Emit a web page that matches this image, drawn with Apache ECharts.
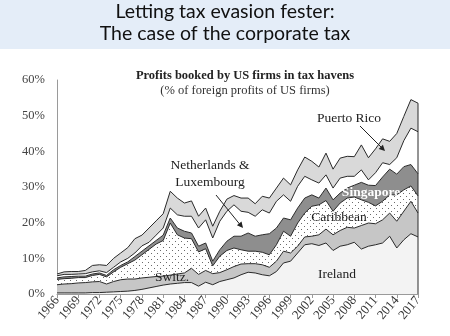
<!DOCTYPE html>
<html><head><meta charset="utf-8">
<script src="https://cdn.jsdelivr.net/npm/echarts@6/dist/echarts.min.js"></script>
<style>html,body{margin:0;padding:0;background:#fff}#c{width:450px;height:336px}</style>
</head><body><div id="c"></div>
<script>
const years = ['1966','1967','1968','1969','1970','1971','1972','1973','1974','1975','1976','1977','1978','1979','1980','1981','1982','1983','1984','1985','1986','1987','1988','1989','1990','1991','1992','1993','1994','1995','1996','1997','1998','1999','2000','2001','2002','2003','2004','2005','2006','2007','2008','2009','2010','2011','2012','2013','2014','2015','2016','2017'];
const ireland = [0.3,0.3,0.3,0.3,0.3,0.4,0.4,0.5,0.6,0.7,0.8,1.0,1.3,1.7,2.1,2.5,2.8,3.0,3.2,3.2,2.2,3.3,2.6,3.5,4.0,4.5,5.4,6.1,5.9,5.4,5.1,6.3,8.7,9.2,11.5,13.8,14.1,13.6,14.3,12.2,13.4,13.8,14.5,12.6,13.4,13.8,14.3,16.2,12.9,15.2,16.9,16.0];
const switz = [2.3,2.5,2.6,2.8,2.9,3.0,3.1,2.3,2.9,3.3,3.4,3.2,3.2,3.0,2.8,2.5,2.5,2.6,2.7,4.0,3.3,3.3,3.1,2.5,2.8,3.2,3.0,2.4,2.6,2.8,2.4,2.9,3.3,2.3,1.9,2.2,2.1,3.0,3.9,4.4,4.4,4.9,4.0,6.6,6.5,5.9,6.5,6.5,7.5,8.0,9.1,6.7];
const caribbean = [1.5,1.5,1.5,1.5,1.4,1.8,2.0,2.0,2.7,3.5,4.3,5.3,6.5,7.8,9.1,10.0,14.6,11.0,9.8,8.3,6.3,6.1,2.2,4.6,5.4,5.2,4.0,3.5,3.5,3.5,3.5,4.6,5.6,4.7,6.5,6.7,8.4,8.4,8.0,6.6,7.7,8.2,8.7,7.2,5.8,5.0,5.2,5.1,7.4,6.0,4.3,4.8];
const singapore = [0.4,0.5,0.5,0.4,0.4,0.4,0.4,0.4,0.6,0.5,0.5,1.0,1.0,1.0,1.0,1.5,1.4,1.9,1.9,1.6,1.6,1.6,1.3,1.8,2.6,3.3,3.8,5.1,4.2,4.9,5.9,4.7,3.7,4.6,4.2,4.2,3.2,1.9,3.5,3.2,2.8,2.8,3.3,4.9,4.8,5.7,6.8,7.2,5.8,6.5,6.0,6.2];
const nlLux = [0.6,0.7,0.6,0.6,0.7,0.6,0.6,0.8,0.7,1.0,1.0,1.0,1.5,1.0,1.5,2.0,2.8,3.7,4.2,4.7,5.1,6.5,6.5,8.0,8.4,8.8,7.0,5.8,5.6,7.0,5.8,7.5,6.5,5.2,6.1,6.1,4.2,4.2,3.7,3.3,4.2,3.3,2.5,3.5,1.5,3.6,4.0,1.3,4.6,7.3,10.2,11.8];
const puertoRico = [0.5,0.7,0.8,0.7,0.9,1.8,1.7,2.0,2.5,2.5,3.0,4.0,3.0,4.0,4.0,4.0,4.7,4.7,3.7,4.3,3.3,3.3,3.3,2.8,3.4,2.6,3.7,4.0,3.5,3.8,4.2,3.7,4.7,4.6,4.6,5.4,5.2,4.5,6.1,5.3,5.6,5.6,5.5,7.0,6.2,6.7,6.7,6.5,6.8,6.8,8.0,8.0];
const yTicks = [0,10,20,30,40,50,60];

const dotCanvas = document.createElement('canvas');
dotCanvas.width = 6; dotCanvas.height = 6;
const dctx = dotCanvas.getContext('2d');
dctx.fillStyle = '#fff'; dctx.fillRect(0,0,6,6);
dctx.fillStyle = '#6a6a6a';
dctx.fillRect(1,1,1,1); dctx.fillRect(4,4,1,1);

const serif = '"Liberation Serif", "DejaVu Serif", serif';
function layer(name, data, fill) {
  return {
    name, type: 'line', stack: 'total', data, symbol: 'none', smooth: false,
    lineStyle: { color: '#2a2a2a', width: 1 },
    areaStyle: { color: fill, opacity: 1 },
    emphasis: { disabled: true }
  };
}

const chart = echarts.init(document.getElementById('c'), null, { renderer: 'canvas' });
const staticGraphics = [
    { type: 'rect', shape: { x: 0, y: 0, width: 450, height: 49 }, style: { fill: '#e4edf8' }, z: 0 },
    { type: 'text', x: 225, y: 12, style: { text: 'Letting tax evasion fester:', fontFamily: 'Lato, "Open Sans", sans-serif', fontSize: 19.5, fill: '#111', align: 'center', verticalAlign: 'middle' } },
    { type: 'text', x: 225, y: 34, style: { text: 'The case of the corporate tax', fontFamily: 'Lato, "Open Sans", sans-serif', fontSize: 19.5, fill: '#111', align: 'center', verticalAlign: 'middle' } },
    { type: 'text', x: 245, y: 76, style: { text: 'Profits booked by US firms in tax havens', fontFamily: serif, fontWeight: 'bold', fontSize: 12.5, fill: '#222', align: 'center', verticalAlign: 'middle' } },
    { type: 'text', x: 245, y: 91, style: { text: '(% of foreign profits of US firms)', fontFamily: serif, fontSize: 12.5, fill: '#333', align: 'center', verticalAlign: 'middle' } },
    { type: 'text', x: 349, y: 118, z: 10, style: { text: 'Puerto Rico', fontFamily: serif, fontSize: 13.5, fill: '#222', align: 'center', verticalAlign: 'middle' } },
    { type: 'line', z: 10, shape: { x1: 360, y1: 126, x2: 384, y2: 150 }, style: { stroke: '#222', lineWidth: 1 } },
    { type: 'polygon', z: 10, shape: { points: [[385,151],[378.7,148.9],[382.9,144.7]] }, style: { fill: '#222' } },
    { type: 'text', x: 210, y: 165, z: 10, style: { text: 'Netherlands &', fontFamily: serif, fontSize: 13.5, fill: '#222', align: 'center', verticalAlign: 'middle' } },
    { type: 'text', x: 210, y: 182, z: 10, style: { text: 'Luxembourg', fontFamily: serif, fontSize: 13.5, fill: '#222', align: 'center', verticalAlign: 'middle' } },
    { type: 'line', z: 10, shape: { x1: 216, y1: 195, x2: 242, y2: 227 }, style: { stroke: '#222', lineWidth: 1 } },
    { type: 'polygon', z: 10, shape: { points: [[243,228],[236.9,225.3],[241.5,221.5]] }, style: { fill: '#222' } },
    { type: 'text', x: 371, y: 193, z: 10, style: { text: 'Singapore', fontFamily: serif, fontWeight: 'bold', fontSize: 13.5, fill: '#ffffff', align: 'center', verticalAlign: 'middle' } },
    { type: 'text', x: 339, y: 217, z: 10, style: { text: 'Caribbean', fontFamily: serif, fontSize: 13.5, fill: '#222', align: 'center', verticalAlign: 'middle' } },
    { type: 'text', x: 337, y: 274, z: 10, style: { text: 'Ireland', fontFamily: serif, fontSize: 13.5, fill: '#222', align: 'center', verticalAlign: 'middle' } },
    { type: 'text', x: 172, y: 277, z: 10, style: { text: 'Switz.', fontFamily: serif, fontSize: 13.5, fill: '#222', align: 'center', verticalAlign: 'middle' } }
];
chart.setOption({
  animation: false,
  backgroundColor: '#ffffff',
  grid: { left: 57, right: 32, top: 80, bottom: 42, containLabel: false },
  xAxis: {
    type: 'category', data: years, boundaryGap: false,
    axisLine: { lineStyle: { color: '#9a9a9a', width: 1 } },
    axisTick: { interval: 2, length: 4, lineStyle: { color: '#9a9a9a' } },
    axisLabel: { interval: 2, rotate: 50, margin: 4, fontFamily: serif, fontSize: 13, color: '#333' },
    splitLine: { show: false }
  },
  yAxis: {
    type: 'value', min: yTicks[0], max: yTicks[yTicks.length - 1], interval: 10,
    axisLine: { show: true, lineStyle: { color: '#9a9a9a', width: 1 } },
    axisTick: { show: false },
    splitLine: { show: false },
    axisLabel: { formatter: '{value}%', fontFamily: serif, fontSize: 12.5, color: '#444', margin: 12 }
  },
  series: [
    layer('Ireland', ireland, '#f3f3f3'),
    layer('Switz.', switz, '#c6c6c6'),
    layer('Caribbean', caribbean, { image: dotCanvas, repeat: 'repeat' }),
    layer('Singapore', singapore, '#8e8e8e'),
    layer('Netherlands & Luxembourg', nlLux, '#ffffff'),
    layer('Puerto Rico', puertoRico, '#d9d9d9')
  ],
  graphic: staticGraphics
});
// closing edge at the last year, positioned through the chart's own scales
const last = years.length - 1;
const lastTotal = [ireland, switz, caribbean, singapore, nlLux, puertoRico].reduce((s, a) => s + a[last], 0);
const pBottom = chart.convertToPixel({ gridIndex: 0 }, [last, 0]);
const pTop = chart.convertToPixel({ gridIndex: 0 }, [last, lastTotal]);
chart.setOption({ graphic: staticGraphics.concat([
  { type: 'line', z: 5, shape: { x1: pBottom[0], y1: pBottom[1], x2: pTop[0], y2: pTop[1] }, style: { stroke: '#2a2a2a', lineWidth: 1 } }
]) });
</script>
</body></html>
